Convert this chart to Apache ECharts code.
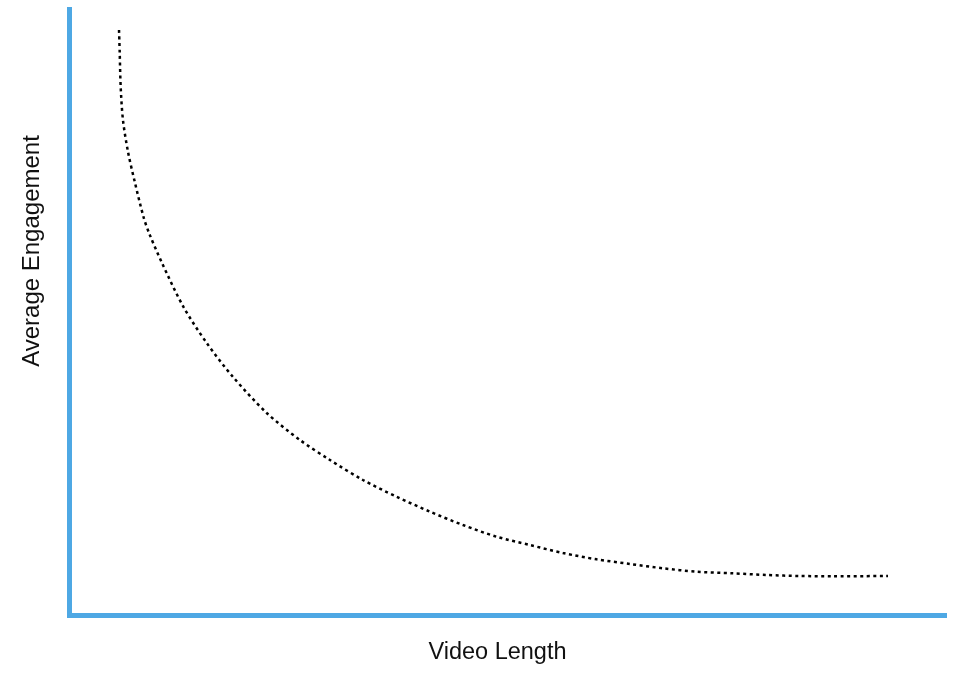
<!DOCTYPE html>
<html>
<head>
<meta charset="utf-8">
<script src="https://cdn.jsdelivr.net/npm/echarts@6/dist/echarts.min.js"></script>
<style>
html,body{margin:0;padding:0;background:#fff;}
#chart{width:960px;height:675px;}
</style>
</head>
<body>
<div id="chart"></div>
<script>
// Video length (0-100 scale)
var videoLength = [5.66, 5.74, 5.85, 6.11, 6.69, 7.49, 8.46, 9.09, 10.57, 13.01, 15.68, 18.69, 22.54, 26.34, 29.77, 33.54, 37.39, 41.2, 44.97, 48.82, 52.63, 56.4, 60.25, 64.06, 67.83, 71.68, 75.83, 79.68, 83.49, 87.26, 93.54];
// Average engagement (0-100 scale)
var engagement = [96.62, 92.82, 87.21, 81.77, 76.49, 71.37, 65.76, 63.12, 58.17, 50.96, 44.97, 39.36, 33.42, 28.96, 25.66, 22.36, 19.6, 17.13, 14.93, 13.0, 11.63, 10.31, 9.27, 8.5, 7.79, 7.23, 6.96, 6.68, 6.52, 6.47, 6.52];
var xTitle = 'Video Length';
var yTitle = 'Average Engagement';

var points = videoLength.map(function (x, i) { return [x, engagement[i]]; });
var blue = '#4EA8E4';
var font = '"Liberation Sans", Arial, Helvetica, sans-serif';

var chart = echarts.init(document.getElementById('chart'));
chart.setOption({
  animation: false,
  backgroundColor: '#ffffff',
  grid: { left: 69.5, right: 15.5, top: 9.5, bottom: 59.5, containLabel: false },
  xAxis: {
    type: 'value', min: 0, max: 100,
    axisLine: { show: true, onZero: false, lineStyle: { color: blue, width: 5, cap: 'square' } },
    axisTick: { show: false }, axisLabel: { show: false }, splitLine: { show: false }
  },
  yAxis: {
    type: 'value', min: 0, max: 100,
    axisLine: { show: true, onZero: false, lineStyle: { color: blue, width: 5, cap: 'square' } },
    axisTick: { show: false }, axisLabel: { show: false }, splitLine: { show: false }
  },
  series: [{
    type: 'line',
    data: points,
    smooth: 0.3,
    showSymbol: false,
    symbol: 'none',
    lineStyle: { color: '#000000', width: 2.5, type: [3, 3.5] }
  }],
  graphic: [
    {
      type: 'text',
      x: 497.5, y: 653,
      style: { text: xTitle, font: '23.5px ' + font, fill: '#111', align: 'center', verticalAlign: 'middle' }
    },
    {
      type: 'text',
      x: 32, y: 251,
      rotation: Math.PI / 2,
      style: { text: yTitle, font: '24px ' + font, fill: '#111', align: 'center', verticalAlign: 'middle' }
    }
  ]
});
</script>
</body>
</html>
